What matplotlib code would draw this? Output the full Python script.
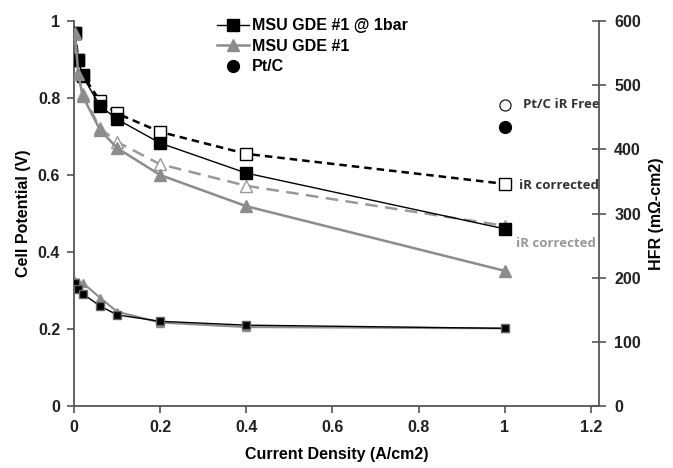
import matplotlib
matplotlib.use("Agg")
import matplotlib.pyplot as plt
from matplotlib.lines import Line2D

plt.rcParams['font.family'] = ['Liberation Sans', 'DejaVu Sans']

# current density (A/cm2)
current = [0.002, 0.01, 0.02, 0.06, 0.1, 0.2, 0.4, 1.0]

# cell potential (V)
gde_1bar = [0.97, 0.90, 0.857, 0.78, 0.745, 0.683, 0.605, 0.46]
gde_1bar_ir = [0.97, 0.90, 0.86, 0.793, 0.76, 0.712, 0.655, 0.577]
gde = [0.97, 0.862, 0.805, 0.718, 0.67, 0.60, 0.519, 0.351]
gde_ir = [0.97, 0.862, 0.81, 0.722, 0.686, 0.628, 0.572, 0.468]

# HFR (mOhm-cm2)
hfr_1bar = [192, 183, 175, 156, 142, 132, 126, 121]
hfr_gde = [195, 193, 192, 169, 147, 130, 123, 121]

# Pt/C at 1 A/cm2
ptc_x = [1.0]
ptc_v = [0.725]
ptc_ir_free = [0.782]

gray = '#8c8c8c'
axis_col = '#555555'
note_font = ['Open Sans', 'DejaVu Sans']

fig = plt.figure(figsize=(6.73, 4.68), dpi=100)
ax = fig.add_axes([0.110, 0.1325, 0.780, 0.8225])
ax2 = ax.twinx()

ax.plot(current, gde_1bar_ir, color='black', linestyle=(0, (3, 2)), linewidth=1.8,
        marker='s', markersize=8, markerfacecolor='white', markeredgecolor='black', zorder=3)
ax.plot(current, gde_ir, color='#999999', linestyle=(0, (5, 3)), linewidth=1.8,
        marker='^', markersize=8, markerfacecolor='white', markeredgecolor='#999999', zorder=3)
ax.plot(current, gde_1bar, color='black', linewidth=1.0, marker='s', markersize=9,
        markerfacecolor='black', markeredgecolor='black', zorder=4)
ax.plot(current, gde, color=gray, linewidth=1.8, marker='^', markersize=9,
        markerfacecolor=gray, markeredgecolor=gray, zorder=4)
ax.plot(ptc_x, ptc_ir_free, linestyle='none', marker='o', markersize=8,
        markerfacecolor='white', markeredgecolor='black', markeredgewidth=0.8)
ax.plot(ptc_x, ptc_v, linestyle='none', marker='o', markersize=8.5, color='black')

ax2.plot(current, hfr_gde, color=gray, linewidth=1.5, marker='^', markersize=6,
         markerfacecolor=gray, markeredgecolor=gray)
ax2.plot(current, hfr_1bar, color='black', linewidth=1.0, marker='s', markersize=5.5,
         markerfacecolor='black', markeredgecolor='#666666')

ax.set_xlim(0, 1.2186)
ax.set_ylim(0, 1)
ax2.set_ylim(0, 600)
ax.set_xticks([0, 0.2, 0.4, 0.6, 0.8, 1, 1.2])
ax.set_xticklabels(['0', '0.2', '0.4', '0.6', '0.8', '1', '1.2'])
ax.set_yticks([0, 0.2, 0.4, 0.6, 0.8, 1])
ax.set_yticklabels(['0', '0.2', '0.4', '0.6', '0.8', '1'])
ax2.set_yticks(range(0, 601, 100))

for a in (ax, ax2):
    a.spines['top'].set_visible(False)
    for s in a.spines.values():
        s.set_color(axis_col)
        s.set_linewidth(1.3)
ax.spines['right'].set_visible(False)
ax2.spines['left'].set_visible(False)
ax2.spines['bottom'].set_visible(False)

ax.tick_params(axis='both', direction='out', length=5, width=1.2, color=axis_col,
               labelsize=11.5, pad=5)
ax2.tick_params(axis='y', direction='inout', length=10, width=1.2, color=axis_col,
                labelsize=11.5, pad=6)
for lab in ax.get_xticklabels() + ax.get_yticklabels() + ax2.get_yticklabels():
    lab.set_fontweight('bold')
    lab.set_color('#222222')

ax.set_xlabel('Current Density (A/cm2)', fontsize=11.5, fontweight='bold', labelpad=9)
ax.set_ylabel('Cell Potential (V)', fontsize=11.5, fontweight='bold', labelpad=5)
ax2.set_ylabel('HFR (mΩ-cm2)', fontsize=11.5, fontweight='bold', labelpad=6)

ax.text(1.042, 0.782, 'Pt/C iR Free', fontsize=9.5, fontweight='bold',
        color='#333333', va='center', ha='left', family=note_font)
ax.text(1.032, 0.573, 'iR corrected', fontsize=9.5, fontweight='bold',
        color='#333333', va='center', ha='left', family=note_font)
ax.text(1.025, 0.423, 'iR corrected', fontsize=9.5, fontweight='bold',
        color='#999999', va='center', ha='left', family=note_font)

handles = [
    Line2D([], [], color='black', linewidth=1.0, marker='s', markersize=9),
    Line2D([], [], color=gray, linewidth=1.8, marker='^', markersize=9),
    Line2D([], [], color='black', linestyle='none', marker='o', markersize=8.5),
]
leg = ax.legend(handles, ['MSU GDE #1 @ 1bar', 'MSU GDE #1', 'Pt/C'],
                loc='upper left', bbox_to_anchor=(0.245, 1.045), frameon=False,
                handlelength=2.0, handletextpad=0.2, labelspacing=0.35,
                prop={'weight': 'bold', 'size': 11.5})

fig.savefig('out.png', dpi=100)
